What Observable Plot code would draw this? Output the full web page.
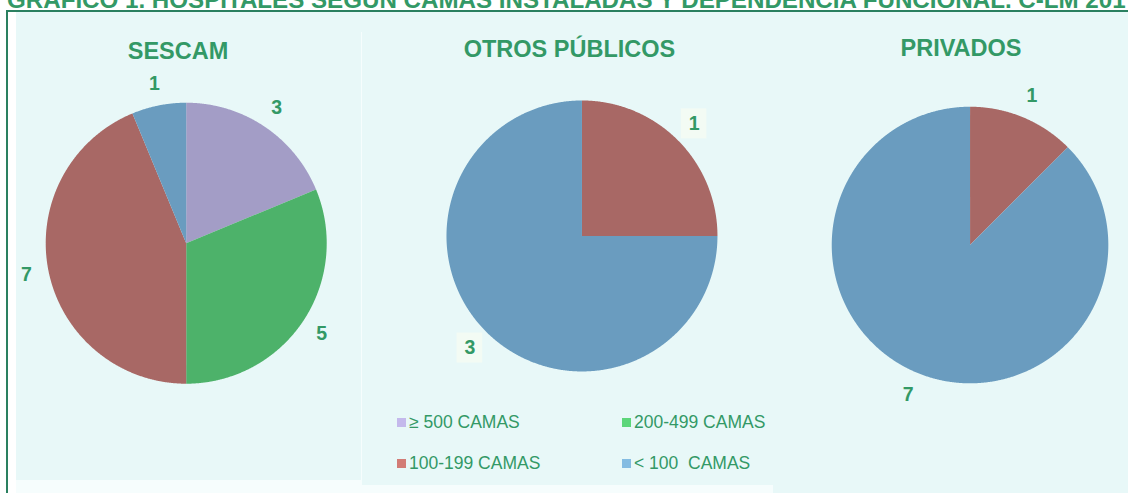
<!DOCTYPE html>
<html><head><meta charset="utf-8">
<script src="https://cdn.jsdelivr.net/npm/d3@7"></script>
<script src="https://cdn.jsdelivr.net/npm/@observablehq/plot@0.6"></script>
<style>
body{margin:0;background:#fff;font-family:"Liberation Sans",Arial,sans-serif;}
#root{position:relative;width:1128px;height:493px;overflow:hidden;}
.abs{position:absolute;}
</style></head><body><div id="root"></div>
<script>
// ---- data ----
const chartTitle = "GRÁFICO 1. HOSPITALES SEGÚN CAMAS INSTALADAS Y DEPENDENCIA FUNCIONAL. C-LM 201";
const categories = ["≥ 500 CAMAS", "200-499 CAMAS", "100-199 CAMAS", "< 100  CAMAS"];
const panelTitles = ["SESCAM", "OTROS PÚBLICOS", "PRIVADOS"];
const sescam = [3, 5, 7, 1];
const otrosPublicos = [0, 0, 1, 3];
const privados = [0, 0, 1, 7];
const sliceColors = ["#A39DC6", "#4DB26A", "#A86865", "#6A9CBF"];
const legendColors = ["#C4B9EC", "#5CD67A", "#D27C76", "#84BCE2"];

// ---- styling / layout ----
const textColor = "#339966";
const borderColor = "#2A8060";
const panelBg = "#E8F8F8";
const root = document.getElementById("root");
function div(css, html) {
  const d = document.createElement("div");
  d.className = "abs";
  d.style.cssText = css;
  if (html != null) d.innerHTML = html;
  root.appendChild(d);
  return d;
}
// title (clipped at top, as in the reference)
const tbox = div("left:0;top:0;width:1128px;height:10px;overflow:hidden;");
const tspan = document.createElement("div");
tspan.className = "abs";
tspan.style.cssText = `left:7px;top:-12.4px;white-space:nowrap;font-weight:bold;font-size:24.15px;line-height:24px;color:${textColor};`;
tspan.textContent = chartTitle;
tbox.appendChild(tspan);

// frame & panels
div(`left:16px;top:12px;width:1112px;height:481px;background:#F6FDFD;`);
div(`left:16px;top:12px;width:1112px;height:20px;background:${panelBg};`);
div(`left:16px;top:12px;width:345px;height:468px;background:${panelBg};`);
div(`left:362px;top:12px;width:411px;height:473px;background:${panelBg};`);
div(`left:773px;top:12px;width:355px;height:481px;background:${panelBg};`);
div(`left:6px;top:10px;width:1122px;height:2px;background:${borderColor};`);
div(`left:6px;top:10px;width:2px;height:483px;background:${borderColor};`);

// panel titles
const titleLayout = [{cx: 178, base: 59}, {cx: 569.5, base: 57}, {cx: 961, base: 56}];
panelTitles.forEach((t, i) => {
  const L = titleLayout[i];
  const d = div(`left:${L.cx - 200}px;top:${L.base - 20.3}px;width:400px;text-align:center;font-weight:bold;font-size:23.5px;line-height:24px;color:${textColor};white-space:nowrap;`);
  d.textContent = t;
});

// pies
const pieLayout = [
  {values: sescam, cx: 186, cy: 243, r: 140.5, lr: 1.16, boxed: false},
  {values: otrosPublicos, cx: 581.5, cy: 235, r: 135.5, lr: 1.17, boxed: true},
  {values: privados, cx: 970, cy: 244.5, r: 138.3, lr: 1.17, boxed: false}
];
const k = 1.45;
pieLayout.forEach(P => {
  const total = d3.sum(P.values);
  const pts = [], labels = [];
  let acc = 0;
  P.values.forEach((v, i) => {
    if (!v) return;
    const a0 = acc / total * 2 * Math.PI, a1 = (acc + v) / total * 2 * Math.PI;
    acc += v;
    const cat = categories[i];
    pts.push({cat, x: 0, y: 0});
    const n = Math.max(2, Math.ceil((a1 - a0) / 0.005));
    for (let j = 0; j <= n; j++) {
      const t = a0 + (a1 - a0) * j / n;
      pts.push({cat, x: Math.sin(t), y: Math.cos(t)});
    }
    pts.push({cat, x: 0, y: 0});
    const m = (a0 + a1) / 2;
    labels.push({cat, value: v, x: P.lr * Math.sin(m), y: P.lr * Math.cos(m)});
  });
  const W = 2 * k * P.r;
  const bw = 12.8 / P.r, bh = 15 / P.r;
  const marks = [
    Plot.line(pts, {x: "x", y: "y", z: "cat", fill: "cat", stroke: "none", curve: "linear"})
  ];
  if (P.boxed) marks.push(Plot.rect(labels, {x1: d => d.x - bw, x2: d => d.x + bw, y1: d => d.y - bh, y2: d => d.y + bh, fill: "#F3FBF4"}));
  marks.push(Plot.text(labels, {x: "x", y: "y", text: d => String(d.value), fill: textColor, fontSize: 19.5, fontWeight: "bold"}));
  const svg = Plot.plot({
    width: W, height: W, margin: 0,
    x: {domain: [-k, k], axis: null},
    y: {domain: [-k, k], axis: null},
    color: {domain: categories, range: sliceColors},
    style: {background: "transparent", overflow: "visible", fontFamily: "Liberation Sans, Arial, sans-serif"},
    marks
  });
  svg.style.position = "absolute";
  svg.style.left = (P.cx - k * P.r) + "px";
  svg.style.top = (P.cy - k * P.r) + "px";
  svg.style.maxWidth = "none";
  root.appendChild(svg);
});

// legend
const legendPos = [{x: 397, y: 422}, {x: 622, y: 422}, {x: 397, y: 463}, {x: 622, y: 463}];
categories.forEach((c, i) => {
  const p = legendPos[i];
  const d = div(`left:${p.x}px;top:${p.y - 10}px;height:20px;display:flex;align-items:center;white-space:pre;font-size:17.5px;color:${textColor};`);
  const sw = document.createElement("span");
  sw.style.cssText = `display:inline-block;width:9px;height:9px;margin-right:3px;background:${legendColors[i]};`;
  const tx = document.createElement("span");
  tx.textContent = c;
  d.appendChild(sw); d.appendChild(tx);
});
</script></body></html>
